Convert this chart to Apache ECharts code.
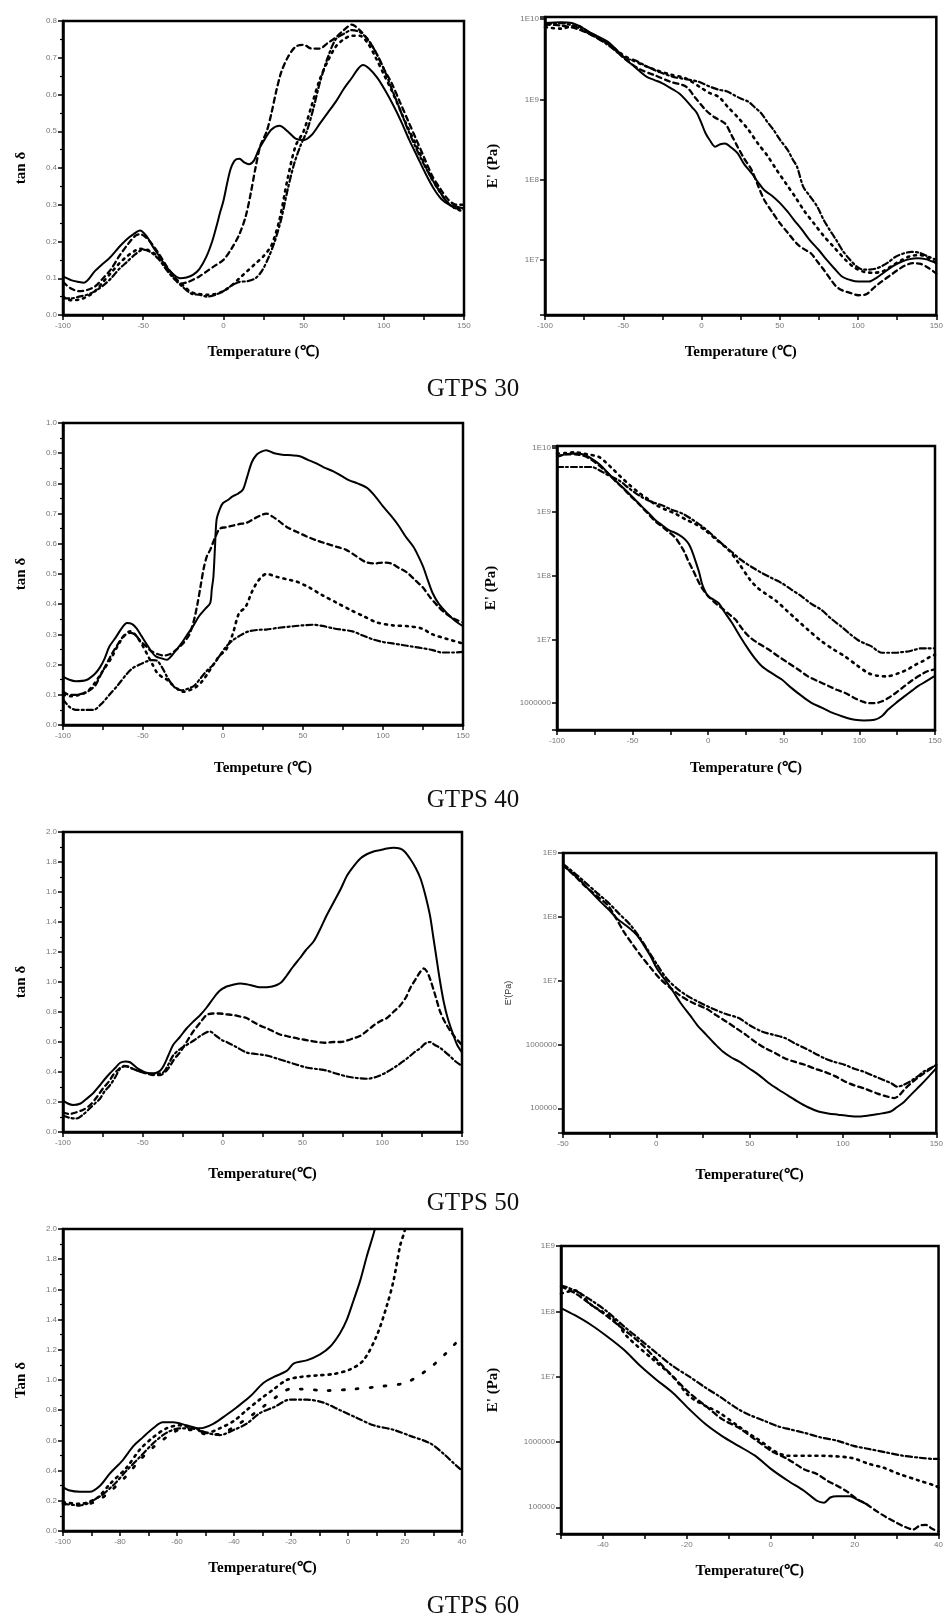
<!DOCTYPE html>
<html><head><meta charset="utf-8">
<script src="https://cdn.jsdelivr.net/npm/echarts@6/dist/echarts.min.js"></script>
<style>html,body{margin:0;padding:0;background:#fff}#c{width:946px;height:1618px}</style>
</head><body><div id="c"></div>
<script>
const panelTitles = ['GTPS 30', 'GTPS 40', 'GTPS 50', 'GTPS 60'];

// Row 1 – GTPS 30, tan δ
const p1Solid = [[-100,0.105],[-95,0.095],[-90,0.09],[-87,0.088],[-80,0.12],[-75,0.14],[-71,0.155],[-65,0.185],[-60.5,0.205],[-56,0.22],[-52,0.23],[-48,0.215],[-44,0.186],[-40,0.16],[-35.6,0.131],[-31,0.11],[-27,0.1],[-23,0.102],[-19,0.109],[-15,0.125],[-10.6,0.159],[-7,0.2],[-4.4,0.24],[-2,0.28],[0,0.31],[4,0.39],[7,0.42],[10,0.425],[13,0.415],[16,0.41],[19,0.42],[22,0.45],[26,0.48],[30,0.505],[35,0.515],[40,0.5],[45,0.48],[50,0.476],[55,0.49],[60,0.52],[65,0.55],[70,0.58],[75,0.615],[80,0.645],[84,0.67],[87,0.68],[91,0.67],[96,0.645],[101,0.61],[106,0.57],[111,0.525],[116,0.475],[121,0.43],[126,0.385],[131,0.345],[136,0.315],[141,0.3],[145,0.295],[150,0.29]];
const p1Dash = [[-100,0.09],[-95,0.072],[-90,0.065],[-85,0.068],[-80,0.078],[-75,0.1],[-70,0.125],[-65,0.16],[-60,0.19],[-55,0.215],[-52,0.22],[-48,0.21],[-44,0.19],[-40,0.165],[-35,0.13],[-30,0.1],[-27,0.085],[-22,0.09],[-15,0.105],[-10,0.12],[-5,0.135],[0,0.15],[5,0.18],[10,0.22],[14,0.27],[17,0.33],[20,0.4],[23,0.46],[27,0.5],[30,0.55],[33,0.61],[36,0.66],[40,0.7],[45,0.73],[50,0.735],[55,0.725],[60,0.725],[65,0.74],[70,0.755],[75,0.775],[80,0.79],[85,0.775],[90,0.75],[95,0.715],[100,0.67],[105,0.63],[110,0.58],[115,0.53],[120,0.48],[125,0.43],[130,0.38],[135,0.345],[140,0.315],[145,0.3],[150,0.3]];
const p1Dot = [[-100,0.05],[-95,0.04],[-90,0.042],[-85,0.05],[-80,0.065],[-75,0.09],[-70,0.115],[-65,0.14],[-60,0.16],[-55,0.175],[-52,0.18],[-48,0.178],[-44,0.17],[-40,0.155],[-35,0.125],[-30,0.1],[-25,0.08],[-20,0.062],[-15,0.057],[-10,0.055],[-5,0.057],[0,0.065],[5,0.08],[10,0.1],[15,0.12],[20,0.14],[25,0.16],[30,0.19],[35,0.26],[40,0.37],[45,0.46],[50,0.5],[55,0.57],[60,0.64],[65,0.69],[70,0.73],[75,0.75],[80,0.76],[85,0.76],[90,0.74],[95,0.7],[100,0.655],[105,0.61],[110,0.56],[115,0.51],[120,0.465],[125,0.415],[130,0.37],[135,0.335],[140,0.305],[145,0.29],[150,0.28]];
const p1DashDot = [[-100,0.045],[-95,0.045],[-90,0.05],[-85,0.055],[-80,0.065],[-75,0.08],[-70,0.1],[-65,0.125],[-60,0.145],[-55,0.165],[-50,0.178],[-45,0.17],[-40,0.15],[-35,0.12],[-30,0.095],[-25,0.075],[-20,0.058],[-15,0.055],[-10,0.05],[-5,0.055],[0,0.065],[5,0.08],[10,0.09],[15,0.092],[20,0.1],[24,0.12],[28,0.155],[32,0.2],[36,0.26],[40,0.34],[44,0.41],[48,0.46],[52,0.5],[56,0.56],[60,0.63],[65,0.7],[70,0.75],[75,0.765],[80,0.775],[85,0.77],[90,0.75],[95,0.715],[100,0.67],[105,0.615],[110,0.56],[115,0.505],[120,0.455],[125,0.41],[130,0.37],[135,0.335],[140,0.305],[145,0.29],[150,0.29]];

// Row 1 – GTPS 30, log10 E'
const p2Solid = [[-100,9.95],[-90,9.96],[-83,9.95],[-76,9.89],[-70,9.82],[-65,9.77],[-60,9.72],[-56,9.65],[-52,9.57],[-48,9.49],[-43,9.41],[-39,9.34],[-35,9.28],[-30,9.24],[-25,9.2],[-18,9.12],[-14,9.07],[-10,8.99],[-6,8.9],[-3,8.83],[0,8.7],[2.5,8.58],[5,8.5],[8.8,8.41],[12,8.44],[15,8.45],[19,8.4],[23,8.33],[27,8.2],[32,8.08],[36,7.97],[40,7.87],[45,7.8],[50,7.71],[55,7.6],[59,7.5],[64,7.38],[69,7.25],[75,7.12],[80,7.0],[85,6.89],[90,6.79],[95,6.75],[100,6.73],[107,6.73],[112,6.78],[117,6.85],[122,6.92],[128,6.98],[133,7.01],[138,7.02],[143,7.01],[150,6.96]];
const p2Dash = [[-100,9.93],[-90,9.92],[-80,9.88],[-70,9.8],[-60,9.7],[-50,9.52],[-40,9.38],[-30,9.3],[-20,9.22],[-10,9.16],[-4,9.02],[2.5,8.87],[8,8.78],[15,8.7],[19,8.56],[23,8.41],[27,8.27],[32,8.12],[36,7.93],[40,7.75],[45,7.6],[50,7.46],[55,7.34],[61,7.2],[65,7.14],[70,7.08],[74,6.98],[78,6.88],[82,6.77],[86,6.67],[90,6.62],[95,6.59],[100,6.56],[105,6.57],[111,6.67],[115,6.73],[120,6.8],[125,6.87],[130,6.93],[135,6.96],[140,6.95],[145,6.9],[150,6.83]];
const p2Dot = [[-100,9.9],[-90,9.88],[-80,9.92],[-70,9.8],[-60,9.7],[-50,9.55],[-40,9.45],[-30,9.37],[-20,9.31],[-10,9.26],[0,9.14],[5,9.08],[11,9.03],[17,8.9],[23,8.78],[30,8.62],[36,8.45],[42,8.3],[48,8.12],[54,7.95],[60,7.78],[66,7.6],[72,7.45],[78,7.3],[85,7.15],[92,7.0],[98,6.9],[104,6.85],[110,6.84],[116,6.86],[122,6.93],[128,7.0],[134,7.05],[140,7.06],[145,7.02],[150,6.96]];
const p2DashDot = [[-100,9.93],[-90,9.95],[-80,9.9],[-70,9.8],[-60,9.68],[-52,9.56],[-47,9.5],[-43,9.49],[-35,9.41],[-27,9.34],[-18,9.28],[-10,9.25],[-2,9.22],[5,9.16],[11,9.12],[16,9.1],[21,9.05],[25,9.01],[30,8.97],[34,8.9],[38,8.83],[42,8.72],[46,8.62],[50,8.5],[55,8.37],[58,8.26],[61,8.16],[65,7.91],[69,7.8],[74,7.66],[78,7.5],[82,7.37],[86,7.25],[90,7.12],[94,7.02],[99,6.92],[103,6.88],[107,6.88],[111,6.89],[115,6.92],[120,6.98],[124,7.04],[129,7.08],[134,7.1],[139,7.09],[145,7.04],[150,7.0]];

// Row 2 – GTPS 40, tan δ
const p3Solid = [[-100,0.16],[-96,0.15],[-92,0.145],[-85,0.15],[-80,0.17],[-77,0.19],[-74,0.22],[-71,0.26],[-67,0.29],[-64,0.315],[-60,0.338],[-57,0.335],[-54,0.32],[-51,0.295],[-48,0.27],[-45,0.245],[-42,0.227],[-38,0.22],[-35,0.216],[-32,0.23],[-29,0.25],[-26,0.27],[-23,0.294],[-19,0.325],[-15,0.36],[-11,0.385],[-8,0.404],[-7,0.45],[-6,0.49],[-5,0.59],[-4,0.68],[-2,0.715],[0,0.735],[3,0.745],[6,0.757],[9,0.765],[12.5,0.78],[15,0.82],[18,0.87],[21,0.895],[24,0.905],[27,0.91],[32,0.9],[37,0.895],[43,0.893],[48,0.89],[53,0.878],[58,0.867],[63,0.853],[69,0.84],[74,0.825],[79,0.81],[84,0.8],[90,0.785],[95,0.758],[100,0.724],[105,0.693],[110,0.658],[114,0.625],[119,0.59],[122,0.56],[125,0.525],[128,0.48],[131,0.437],[135,0.4],[140,0.37],[145,0.345],[150,0.327]];
const p3Dash = [[-100,0.11],[-96,0.1],[-92,0.1],[-85,0.11],[-80,0.13],[-77,0.16],[-73,0.2],[-70,0.23],[-66,0.265],[-62,0.295],[-58,0.305],[-55,0.3],[-52,0.28],[-48,0.26],[-45,0.245],[-41,0.235],[-37,0.23],[-33,0.235],[-29,0.25],[-25,0.27],[-21,0.3],[-18,0.35],[-16,0.4],[-14,0.46],[-12,0.52],[-10,0.56],[-8,0.58],[-5,0.62],[-2,0.65],[2,0.655],[6,0.66],[10,0.665],[15,0.67],[20,0.685],[24,0.695],[27,0.7],[31,0.69],[35,0.675],[40,0.655],[46,0.64],[52,0.625],[58,0.612],[65,0.6],[71,0.59],[77,0.58],[83,0.56],[89,0.54],[95,0.535],[100,0.538],[105,0.535],[110,0.52],[115,0.505],[120,0.48],[125,0.455],[129,0.426],[134,0.395],[139,0.37],[145,0.35],[150,0.34]];
const p3Dot = [[-100,0.1],[-95,0.095],[-90,0.1],[-85,0.11],[-80,0.14],[-75,0.18],[-70,0.22],[-65,0.27],[-61,0.3],[-58,0.31],[-55,0.3],[-51,0.27],[-47,0.23],[-44,0.2],[-41,0.172],[-37,0.155],[-35,0.15],[-31,0.13],[-28,0.118],[-25,0.11],[-21,0.115],[-17,0.125],[-13,0.145],[-10,0.167],[-6,0.2],[-2,0.23],[2,0.25],[6,0.3],[10,0.37],[14,0.39],[18,0.44],[21,0.47],[24,0.49],[27,0.5],[34,0.49],[42,0.48],[46,0.475],[54,0.455],[62,0.43],[71,0.405],[80,0.38],[88,0.36],[96,0.34],[106,0.33],[116,0.327],[124,0.32],[131,0.3],[140,0.285],[150,0.27]];
const p3DashDot = [[-100,0.085],[-96,0.06],[-92,0.05],[-86,0.05],[-81,0.05],[-76,0.07],[-71,0.1],[-66,0.13],[-60,0.17],[-56,0.19],[-52,0.2],[-48,0.21],[-44,0.215],[-41,0.212],[-38,0.19],[-35,0.16],[-32,0.135],[-29,0.12],[-26,0.115],[-22,0.12],[-18,0.13],[-14,0.155],[-10,0.18],[-6,0.2],[-2,0.23],[2,0.26],[6,0.28],[10,0.294],[16,0.31],[22,0.315],[27,0.316],[35,0.322],[44,0.327],[50,0.33],[56,0.332],[62,0.328],[69,0.32],[75,0.315],[81,0.31],[87,0.297],[94,0.283],[100,0.275],[106,0.27],[112,0.265],[118,0.26],[124,0.255],[131,0.248],[137,0.24],[144,0.24],[150,0.242]];

// Row 2 – GTPS 40, log10 E'
const p4Solid = [[-100,9.86],[-94,9.9],[-88,9.91],[-83,9.9],[-79,9.86],[-74,9.78],[-70,9.7],[-66,9.6],[-61.5,9.49],[-57,9.39],[-52.6,9.29],[-48,9.18],[-43.8,9.08],[-39,8.97],[-35,8.87],[-30,8.78],[-26,8.71],[-22,8.67],[-19.6,8.64],[-16,8.58],[-13,8.5],[-11,8.4],[-8.6,8.24],[-6,8.05],[-4.2,7.88],[-2,7.75],[0,7.67],[3,7.63],[6.8,7.57],[11,7.42],[15.7,7.26],[21,7.05],[26.7,6.84],[31,6.7],[35.5,6.58],[42,6.47],[48.7,6.37],[55,6.24],[62,6.11],[68,6.01],[75,5.93],[81,5.86],[88,5.8],[93,5.76],[97,5.74],[103,5.73],[110,5.74],[115,5.8],[119,5.9],[124,6.0],[130,6.11],[135,6.2],[139,6.27],[144,6.34],[148,6.4],[150,6.43]];
const p4Dash = [[-100,9.86],[-94,9.9],[-88,9.9],[-83,9.88],[-79,9.84],[-74,9.76],[-70,9.68],[-65,9.57],[-61,9.47],[-56,9.36],[-52,9.26],[-47,9.15],[-43,9.05],[-39,8.95],[-35,8.85],[-30,8.76],[-26,8.68],[-22,8.6],[-19,8.5],[-16,8.38],[-13,8.22],[-10,8.08],[-7,7.93],[-4,7.8],[0,7.68],[4.6,7.57],[10,7.47],[14,7.39],[18,7.31],[22,7.18],[26.7,7.05],[33,6.94],[40,6.84],[46,6.74],[53,6.63],[60,6.52],[66,6.42],[73,6.34],[79.5,6.27],[85,6.21],[90.6,6.16],[96,6.09],[101.6,6.03],[106,6.0],[110,6.0],[115,6.03],[119,6.08],[124,6.16],[130,6.27],[135,6.36],[141,6.45],[145,6.5],[150,6.53]];
const p4Dot = [[-100,9.91],[-94,9.92],[-88,9.93],[-80,9.9],[-72.5,9.86],[-68,9.78],[-63.6,9.68],[-58,9.55],[-52,9.42],[-46,9.3],[-40,9.2],[-34,9.1],[-28,9.03],[-21.8,8.97],[-15,8.88],[-8,8.8],[-2,8.71],[5,8.57],[13.5,8.4],[20,8.2],[27.8,7.93],[33,7.8],[37.7,7.72],[45,7.6],[52,7.45],[57.5,7.33],[66,7.15],[75,6.97],[83,6.84],[90.6,6.73],[98,6.6],[106,6.47],[112,6.43],[118,6.42],[126,6.47],[132,6.53],[137,6.6],[142,6.66],[147,6.73],[150,6.76]];
const p4DashDot = [[-100,9.7],[-94,9.7],[-88,9.7],[-82,9.7],[-77,9.7],[-72,9.65],[-66,9.57],[-59,9.49],[-52,9.36],[-44,9.23],[-37,9.15],[-30.6,9.1],[-24,9.03],[-17,8.97],[-10,8.87],[-4,8.77],[2,8.65],[9,8.5],[15,8.38],[22,8.24],[29,8.13],[35.5,8.04],[42,7.96],[48.7,7.88],[55,7.78],[62,7.67],[68,7.56],[75,7.46],[81,7.33],[88,7.2],[94,7.08],[99,6.99],[104,6.93],[108,6.89],[112,6.82],[115,6.79],[119,6.79],[124,6.79],[128,6.8],[132,6.81],[137,6.84],[141,6.86],[145,6.86],[150,6.86]];

// Row 3 – GTPS 50, tan δ
const p5Solid = [[-100,0.21],[-97,0.19],[-93.7,0.18],[-89,0.19],[-85.4,0.22],[-81,0.26],[-77,0.31],[-74,0.35],[-70.7,0.39],[-67,0.43],[-64.4,0.46],[-61,0.47],[-58,0.465],[-54,0.43],[-51,0.41],[-47.7,0.395],[-44,0.39],[-41.4,0.395],[-39,0.41],[-37,0.44],[-34,0.51],[-31,0.58],[-27,0.63],[-22.6,0.69],[-18,0.74],[-14,0.78],[-10,0.83],[-5.9,0.89],[-2,0.94],[2.5,0.97],[6,0.98],[11,0.99],[15,0.985],[19,0.975],[23,0.965],[27.6,0.965],[31,0.97],[34,0.98],[37,1.0],[40,1.04],[44,1.1],[48.5,1.16],[52,1.21],[57,1.27],[61,1.35],[65,1.44],[69.5,1.53],[74,1.62],[78,1.71],[82,1.77],[86,1.82],[90,1.85],[94.6,1.87],[99,1.88],[103,1.89],[107,1.895],[111,1.89],[114,1.87],[117.6,1.82],[121,1.76],[124,1.69],[127,1.58],[130,1.44],[132,1.3],[134,1.16],[136,1.02],[138.5,0.87],[141,0.76],[144.8,0.64],[147,0.58],[150,0.53]];
const p5Dash = [[-100,0.13],[-96,0.12],[-92,0.13],[-87,0.15],[-83,0.18],[-79,0.23],[-75,0.29],[-71,0.34],[-68.6,0.38],[-65,0.42],[-62,0.44],[-59,0.435],[-56,0.42],[-52,0.405],[-47.7,0.39],[-43,0.38],[-39,0.38],[-36,0.4],[-33,0.44],[-30,0.49],[-26.8,0.53],[-22,0.61],[-18.4,0.67],[-14,0.73],[-10,0.78],[-6,0.79],[-1.7,0.79],[2,0.785],[6.7,0.78],[11,0.77],[15,0.76],[19,0.735],[23.4,0.71],[28,0.69],[32,0.67],[36,0.65],[40,0.64],[44,0.63],[48.5,0.62],[54,0.61],[59,0.6],[64,0.595],[69.5,0.6],[74,0.6],[78,0.61],[82,0.625],[86,0.64],[90,0.67],[94.6,0.71],[99,0.74],[103,0.76],[107,0.8],[111,0.84],[115,0.9],[117.6,0.96],[121,1.02],[124,1.07],[126,1.09],[128,1.07],[130,1.02],[133,0.92],[136.4,0.8],[140,0.72],[145,0.64],[150,0.58]];
const p5DashDot = [[-100,0.11],[-96,0.095],[-91.7,0.09],[-87,0.12],[-83,0.16],[-80,0.19],[-77,0.22],[-74,0.27],[-70.7,0.31],[-67,0.37],[-64.4,0.42],[-61,0.44],[-56,0.42],[-51,0.4],[-45.6,0.39],[-41,0.39],[-37,0.4],[-34,0.45],[-31,0.51],[-27,0.55],[-22.6,0.58],[-18,0.61],[-14,0.64],[-10,0.665],[-8,0.67],[-4,0.64],[0,0.61],[2.5,0.6],[8,0.57],[15,0.53],[21,0.52],[27.6,0.51],[34,0.49],[40,0.47],[46,0.45],[52.7,0.43],[59,0.42],[65,0.41],[71,0.39],[78,0.37],[84,0.36],[90.4,0.355],[97,0.37],[103,0.4],[109,0.44],[115.5,0.49],[120,0.53],[124,0.56],[127,0.59],[130,0.6],[133,0.58],[136.4,0.56],[142,0.51],[146,0.47],[150,0.44]];

// Row 3 – GTPS 50, log10 E'
const p6Solid = [[-50,8.81],[-45,8.68],[-40,8.55],[-35,8.39],[-29.7,8.23],[-25,8.1],[-21,7.97],[-16,7.86],[-12,7.76],[-9,7.66],[-6.8,7.56],[-3,7.38],[0.3,7.19],[5,7.0],[9,6.83],[13,6.65],[18,6.46],[22,6.3],[26.8,6.15],[31,6.02],[35.6,5.89],[40,5.8],[44.4,5.73],[50,5.62],[55,5.52],[60,5.4],[65.6,5.29],[71,5.19],[76,5.1],[81,5.02],[86.8,4.95],[92,4.92],[97.4,4.9],[103,4.88],[108,4.87],[112,4.88],[116.8,4.9],[121,4.92],[125.6,4.95],[129,5.02],[132.7,5.1],[137,5.23],[141.5,5.36],[146,5.5],[150,5.63]];
const p6Dash = [[-50,8.81],[-44,8.65],[-38.5,8.49],[-32,8.33],[-26,8.18],[-22,8.0],[-17.3,7.76],[-13,7.58],[-8.5,7.4],[-3,7.2],[2,7.03],[7,6.9],[12.6,6.77],[19,6.66],[26.8,6.56],[32,6.46],[37.4,6.36],[43,6.25],[48,6.15],[53,6.04],[58.5,5.94],[64,5.86],[69,5.78],[74,5.73],[79.7,5.68],[85,5.62],[90.3,5.57],[96,5.5],[101,5.42],[106,5.36],[111.5,5.31],[118.5,5.23],[123,5.19],[127.4,5.16],[130,5.2],[132.7,5.29],[136,5.38],[139.7,5.47],[145,5.58],[150,5.68]];
const p6DashDot = [[-50,8.83],[-44,8.69],[-38.5,8.55],[-32,8.38],[-26,8.23],[-20,8.05],[-13.8,7.87],[-9,7.68],[-5,7.5],[0,7.27],[5.6,7.03],[11,6.88],[16.2,6.77],[23,6.66],[30.3,6.56],[37,6.48],[44.4,6.41],[50,6.3],[56.8,6.2],[63,6.15],[69,6.1],[74,6.02],[79.7,5.94],[85,5.86],[90.3,5.78],[95,5.73],[101,5.68],[106,5.62],[111.5,5.57],[117,5.5],[122,5.44],[126,5.39],[129,5.34],[132,5.36],[136,5.42],[140,5.5],[143,5.57],[147,5.63],[150,5.68]];

// Row 4 – GTPS 60, tan δ
const p7Solid = [[-100,0.29],[-98,0.27],[-94,0.26],[-90.6,0.26],[-87,0.3],[-83.6,0.38],[-79,0.47],[-75.4,0.56],[-72,0.62],[-68.4,0.68],[-65,0.72],[-61.3,0.72],[-56.7,0.7],[-52,0.68],[-47.3,0.71],[-42.6,0.77],[-39,0.82],[-34.4,0.89],[-29.7,0.98],[-26,1.02],[-21.5,1.06],[-19,1.11],[-14.5,1.13],[-9.8,1.17],[-6.3,1.22],[-2.8,1.31],[-0.4,1.4],[2,1.53],[4.3,1.66],[6.6,1.82],[9,1.97],[10,2.05],[11.5,2.3]];
const p7Dot = [[-100,0.19],[-94,0.18],[-88,0.22],[-83.6,0.31],[-77.7,0.42],[-73,0.54],[-68.4,0.62],[-63.7,0.68],[-59,0.7],[-54.3,0.68],[-49.6,0.65],[-45,0.68],[-40,0.73],[-35.6,0.8],[-31,0.87],[-26,0.94],[-21.5,1.0],[-16.8,1.02],[-11,1.03],[-5,1.04],[0.75,1.07],[5.4,1.13],[10,1.29],[13.6,1.49],[16,1.66],[18.3,1.89],[20,2.0],[21,2.2]];
const p7Sparse = [[-100,0.18],[-94,0.17],[-88,0.2],[-83,0.27],[-78,0.36],[-73,0.47],[-68,0.56],[-63,0.63],[-59,0.67],[-54,0.67],[-49.6,0.64],[-45,0.64],[-40,0.69],[-35,0.75],[-30,0.82],[-25,0.89],[-20.3,0.94],[-16.8,0.94],[-7.5,0.93],[2,0.94],[12.5,0.96],[20,0.98],[25,1.03],[30,1.1],[34,1.17],[37.6,1.24],[40,1.29]];
const p7DashDot = [[-100,0.18],[-94,0.17],[-87,0.23],[-82,0.31],[-77.7,0.4],[-73,0.49],[-68.4,0.58],[-63.7,0.65],[-59,0.68],[-54.3,0.68],[-49.6,0.65],[-45,0.635],[-40,0.67],[-35.6,0.71],[-31,0.78],[-26,0.82],[-20.3,0.87],[-14.5,0.87],[-8.6,0.85],[-2.8,0.8],[3,0.75],[9,0.7],[16,0.67],[21.8,0.63],[28.9,0.58],[33.6,0.51],[37,0.45],[39.4,0.41],[40,0.4]];

// Row 4 – GTPS 60, log10 E'
const p8Solid = [[-50,8.05],[-46.7,7.94],[-42.8,7.79],[-38.9,7.61],[-35,7.41],[-31,7.16],[-27.2,6.95],[-23.3,6.75],[-19.4,6.5],[-15.5,6.27],[-11.6,6.09],[-7.7,5.94],[-3.75,5.79],[0.2,5.58],[4,5.41],[8,5.25],[11,5.1],[12.7,5.07],[14.2,5.15],[15.8,5.17],[18.9,5.17],[20.5,5.12],[22.8,5.05]];
const p8Dash = [[-50,8.38],[-46.7,8.28],[-42.8,8.1],[-38.9,7.92],[-35,7.72],[-31,7.51],[-27.2,7.26],[-23.3,7.0],[-19.4,6.75],[-15.5,6.55],[-11.6,6.35],[-7.7,6.22],[-3.75,6.04],[0.2,5.86],[4,5.74],[8,5.58],[11,5.51],[13.4,5.41],[15.8,5.33],[18,5.25],[20.5,5.13],[22.8,5.05],[25,4.95],[27.5,4.85],[29.8,4.77],[32,4.7],[34,4.66],[35.5,4.72],[37,4.73],[38.5,4.67],[40,4.63]];
const p8Dot = [[-50,8.27],[-46.7,8.32],[-42.8,8.1],[-37.3,7.87],[-34.2,7.61],[-28,7.26],[-23.3,7.0],[-19.4,6.7],[-15.5,6.55],[-12.3,6.45],[-7.7,6.24],[-3.75,6.07],[4,5.79],[9.5,5.79],[18.9,5.76],[23.6,5.66],[26.7,5.61],[30.6,5.51],[35.3,5.41],[39.2,5.33],[40,5.3]];
const p8DashDot = [[-50,8.4],[-46.7,8.32],[-42.8,8.17],[-38.9,7.99],[-35,7.77],[-31,7.56],[-27.2,7.36],[-23.3,7.16],[-19.4,7.0],[-15.5,6.83],[-12.3,6.7],[-7.7,6.5],[-5.3,6.42],[-1.4,6.32],[1.7,6.24],[4.8,6.19],[8,6.14],[11.9,6.07],[15.8,6.02],[19.7,5.94],[23.6,5.89],[27.5,5.84],[31.4,5.79],[35.3,5.76],[39.2,5.74],[40,5.74]];

// ---------- LAYOUT ----------
const grids = [
  {left:63, top:21, width:401, height:294},
  {left:545, top:17, width:398, height:298},
  {left:63, top:423, width:400, height:302},
  {left:557, top:446, width:378, height:284},
  {left:63, top:832, width:399, height:300},
  {left:563, top:853, width:378, height:280},
  {left:63, top:1229, width:399, height:302},
  {left:561, top:1246, width:383, height:288}
];
const xCfg = [
  {min:-100,max:150,interval:25,step:50,name:'Temperature (℃)',gap:30},
  {min:-100,max:150,interval:25,step:50,name:'Temperature (℃)',gap:30},
  {min:-100,max:150,interval:25,step:50,name:'Tempeture (℃)',gap:36},
  {min:-100,max:150,interval:25,step:50,name:'Temperature (℃)',gap:31},
  {min:-100,max:150,interval:25,step:50,name:'Temperature(℃)',gap:35},
  {min:-50,max:150,interval:25,step:50,name:'Temperature(℃)',gap:35},
  {min:-100,max:40,interval:10,step:20,name:'Temperature(℃)',gap:30},
  {min:-50,max:40,interval:10,step:20,name:'Temperature(℃)',gap:30}
];
const yCfg = [
  {type:'value',min:0,max:0.8,interval:0.1,name:'tan δ',gap:34},
  {type:'log',min:2.06e6,max:1.06e10,name:"E' (Pa)",gap:44},
  {type:'value',min:0,max:1.0,interval:0.1,name:'tan δ',gap:34},
  {type:'log',min:3.8e5,max:1.07e10,name:"E' (Pa)",gap:58},
  {type:'value',min:0,max:2.0,interval:0.2,name:'tan δ',gap:34},
  {type:'log',min:4.1e4,max:1e9,name:"E'(Pa)",gap:50,small:true},
  {type:'value',min:0,max:2.0,interval:0.2,name:'Tan δ',gap:34},
  {type:'log',min:3.9e4,max:1e9,name:"E' (Pa)",gap:60}
];
const panelSeries = [
  [p1Solid,p1Dash,p1Dot,p1DashDot],
  [p2Solid,p2Dash,p2Dot,p2DashDot],
  [p3Solid,p3Dash,p3Dot,p3DashDot],
  [p4Solid,p4Dash,p4Dot,p4DashDot],
  [p5Solid,p5Dash,p5DashDot],
  [p6Solid,p6Dash,p6DashDot],
  [p7Solid,p7Dot,p7Sparse,p7DashDot],
  [p8Solid,p8Dash,p8Dot,p8DashDot]
];
const panelStyles = [
  ['solid','dash','dot','dashdot'],
  ['solid','dash','dot','dashdot'],
  ['solid','dash','dot','dashdot'],
  ['solid','dash','dot','dashdot'],
  ['solid','dash','dashdot'],
  ['solid','dash','dashdot'],
  ['solid','dot','sparse','dashdot'],
  ['solid','dash','dot','dashdot']
];
const titleTops = [377, 788, 1191, 1594];

const lineTypes = {
  solid:{type:'solid',width:2},
  dash:{type:[5,4],width:2.3},
  dot:{type:[2,5],width:2.6},
  sparse:{type:[2,12],width:2.8},
  dashdot:{type:[6,3,2,3],width:2.2}
};

const tickFont = {fontSize:8,color:'#777',fontFamily:'Liberation Sans'};
const nameFont = {fontSize:15,fontWeight:'bold',color:'#000',fontFamily:'Liberation Serif'};

function logLabel(v){
  const l = Math.log10(v), e = Math.round(l);
  if (Math.abs(l - e) > 0.01) return '';
  return e >= 7 ? '1E' + e : String(Math.pow(10, e));
}

const xAxes = xCfg.map((c,i)=>({
  type:'value', gridIndex:i, min:c.min, max:c.max, interval:c.interval,
  name:c.name, nameLocation:'middle', nameGap:c.gap, nameTextStyle:nameFont,
  axisLine:{show:true,onZero:false,lineStyle:{color:'#000',width:2.5}},
  axisTick:{show:true,inside:false,length:5,lineStyle:{color:'#000',width:1.5}},
  axisLabel:Object.assign({margin:7,formatter:v=>(Math.abs(v % c.step) < 1e-9 ? String(v) : '')},tickFont),
  splitLine:{show:false}
}));

const yAxes = yCfg.map((c,i)=>{
  const a = {
    type:c.type, gridIndex:i, min:c.min, max:c.max,
    name:c.name, nameLocation:'middle', nameGap:c.gap,
    nameTextStyle: c.small ? {fontSize:9,color:'#333',fontFamily:'Liberation Sans'} : nameFont,
    axisLine:{show:true,onZero:false,lineStyle:{color:'#000',width:2.5}},
    axisTick:{show:true,inside:false,length:5,lineStyle:{color:'#000',width:1.5}},
    splitLine:{show:false}
  };
  if (c.type === 'log') {
    a.logBase = 10;
    a.axisLabel = Object.assign({margin:6,formatter:logLabel},tickFont);
  } else {
    a.interval = c.interval;
    a.minorTick = {show:true,splitNumber:2,length:3,lineStyle:{color:'#000',width:1.2}};
    a.axisLabel = Object.assign({margin:6,formatter:v=>v.toFixed(1)},tickFont);
  }
  return a;
});

const series = [];
panelSeries.forEach((list,i)=>{
  const isLog = yCfg[i].type === 'log';
  list.forEach((d,j)=>{
    const st = lineTypes[panelStyles[i][j]];
    series.push({
      type:'line', xAxisIndex:i, yAxisIndex:i,
      data: isLog ? d.map(p=>[p[0], Math.pow(10,p[1])]) : d,
      showSymbol:false, symbol:'none', smooth:0.3, clip:true,
      lineStyle:{color:'#000',width:st.width,type:st.type,cap:'round'},
      z: j===0 ? 3 : 2
    });
  });
});

const chart = echarts.init(document.getElementById('c'), null, {renderer:'canvas'});
chart.setOption({
  animation:false,
  backgroundColor:'#fff',
  title: panelTitles.map((t,i)=>({
    text:t, left:'center', top:titleTops[i], padding:0,
    textStyle:{fontFamily:'Liberation Serif',fontSize:25,fontWeight:'normal',color:'#111'}
  })),
  grid: grids.map(g=>Object.assign({show:true,borderColor:'#000',borderWidth:2.5,backgroundColor:'transparent',containLabel:false},g)),
  xAxis: xAxes,
  yAxis: yAxes,
  series: series
});
</script></body></html>
